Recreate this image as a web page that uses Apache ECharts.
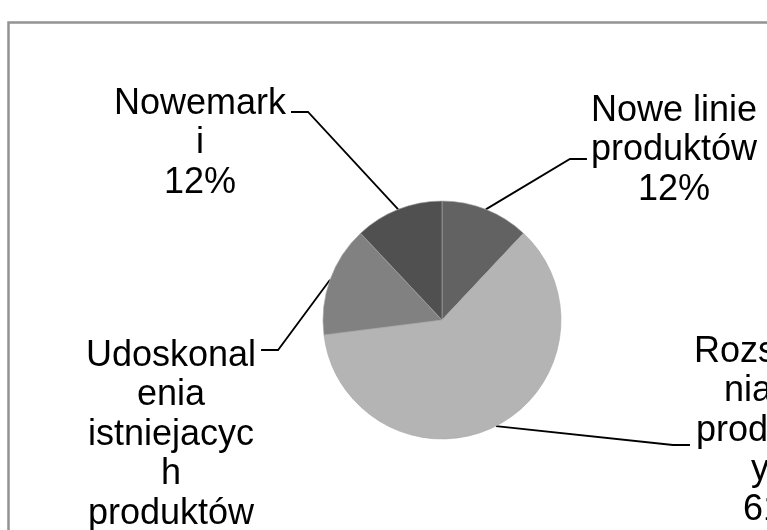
<!DOCTYPE html>
<html>
<head>
<meta charset="utf-8">
<script src="https://cdn.jsdelivr.net/npm/echarts@6/dist/echarts.min.js"></script>
<style>
  html, body { margin: 0; padding: 0; background: #fff; overflow: hidden; }
  #pie-chart { width: 767px; height: 530px; }
</style>
</head>
<body>
<div id="pie-chart"></div>
<script>
// slices clockwise from 12 o'clock
const categories = ['Nowe linie produktów', 'Rozszerzenia linii produktowych', 'Udoskonalenia istniejacych produktów', 'Nowemarki']
const labelText = ['Nowe linie\nproduktów', 'Rozszerze\nnia linii\nproduktow\nych', 'Udoskonal\nenia\nistniejacyc\nh\nproduktów', 'Nowemark\ni']
const shares = [12, 61, 15, 12]
const colors = ['#626262', '#b4b4b4', '#818181', '#505050']

// where each label box sits (center x, top y), which side the leader comes from, leader y
const spots = [
  { x: 674, y: 91, side: 'left', ly: 159 },
  { x: 779, y: 332, side: 'left', ly: 445 },
  { x: 171, y: 336, side: 'right', ly: 350 },
  { x: 200, y: 84, side: 'right', ly: 112 },
]

const chart = echarts.init(document.getElementById('pie-chart'))

chart.setOption({
  animation: false,
  graphic: [
    {
      type: 'rect',
      shape: { x: 8.5, y: 22.5, width: 1000, height: 1000 },
      style: { fill: 'none', stroke: '#939393', lineWidth: 2.5 },
      silent: true,
      z: -1,
    },
  ],
  series: [
    {
      type: 'pie',
      center: [442, 320],
      radius: 119,
      startAngle: 90,
      clockwise: true,
      avoidLabelOverlap: false,
      silent: true,
      itemStyle: { borderColor: '#a8a8a8', borderWidth: 0.6 },
      label: {
        show: true,
        position: 'outside',
        fontFamily: 'Liberation Sans, Arial, sans-serif',
        fontSize: 36,
        lineHeight: 39.5,
        color: '#000',
        align: 'center',
        formatter: (p) => labelText[p.dataIndex] + '\n' + p.value + '%',
      },
      labelLine: {
        show: true,
        lineStyle: { color: '#000', width: 1.8 },
      },
      labelLayout: (params) => {
        const s = spots[params.dataIndex]
        const w = params.labelRect.width
        const start = params.labelLinePoints ? params.labelLinePoints[0] : [0, 0]
        let end, elbow
        if (s.side === 'right') {
          end = [s.x + w / 2 + 5, s.ly]
          elbow = [end[0] + 17, s.ly]
        } else {
          end = [s.x - w / 2 - 4, s.ly]
          elbow = [end[0] - 17, s.ly]
        }
        return {
          x: s.x,
          y: s.y,
          align: 'center',
          verticalAlign: 'top',
          labelLinePoints: [start, elbow, end],
        }
      },
      data: categories.map((name, i) => ({
        name: name,
        value: shares[i],
        itemStyle: { color: colors[i] },
      })),
    },
  ],
})
</script>
</body>
</html>
